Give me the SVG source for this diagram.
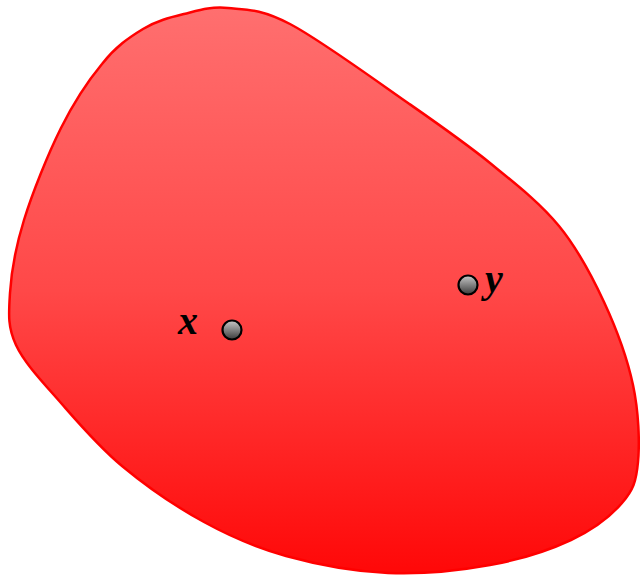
<svg xmlns="http://www.w3.org/2000/svg" width="640" height="575" viewBox="0 0 640 575">
<defs>
<linearGradient id="blobFill" gradientUnits="userSpaceOnUse" x1="0" y1="8" x2="0" y2="573">
<stop offset="0" stop-color="#ff6f6f"/>
<stop offset="0.5" stop-color="#ff4848"/>
<stop offset="1" stop-color="#ff0808"/>
</linearGradient>
<linearGradient id="dotFill" x1="0" y1="0" x2="0" y2="1">
<stop offset="0" stop-color="#c8c8c8"/>
<stop offset="1" stop-color="#3a3a3a"/>
</linearGradient>
</defs>
<style>
.dot{fill:url(#dotFill);stroke:#000;stroke-width:2.2}
.lbl{font-family:"Liberation Serif",serif;font-style:italic;font-weight:bold;font-size:40px;fill:#000}
</style>
<g id="region">
<path fill="url(#blobFill)" stroke="#ff0000" stroke-width="2.5" d="M228,8 C245.7,9.7 260,8.2 290,24 C320,39.8 374.7,79.8 408,103 C441.3,126.2 464.8,142.5 490,163 C515.2,183.5 540,202.8 559,226 C578,249.2 591.7,275.5 604,302 C616.3,328.5 627.3,358.3 633,385 C638.7,411.7 639.8,442.3 638,462 C636.2,481.7 633.2,490 622,503 C610.8,516 593,529.7 571,540 C549,550.3 520.5,559.5 490,565 C459.5,570.5 422,574.5 388,573 C354,571.5 316.7,564.5 286,556 C255.3,547.5 231.3,537 204,522 C176.7,507 145.8,485.8 122,466 C98.2,446.2 78.7,423.2 61,403 C43.3,382.8 24.5,363.3 16,345 C7.5,326.7 8.7,313.8 10,293 C11.3,272.2 15.5,247.5 24,220 C32.5,192.5 48,154 61,128 C74,102 88.3,80.5 102,64 C115.7,46.5 129.3,37.3 143,29 C156.7,20.7 169.8,17.5 184,14 C198.2,10.5 210.3,6.3 228,8 Z"/>
</g>
<g id="connectors"></g>
<g id="node-x">
<circle class="dot" cx="232" cy="330" r="9.5"/>
<text class="lbl" x="178" y="334">x</text>
</g>
<g id="node-y">
<circle class="dot" cx="468" cy="285" r="9.5"/>
<text class="lbl" x="485" y="292">y</text>
</g>
</svg>
